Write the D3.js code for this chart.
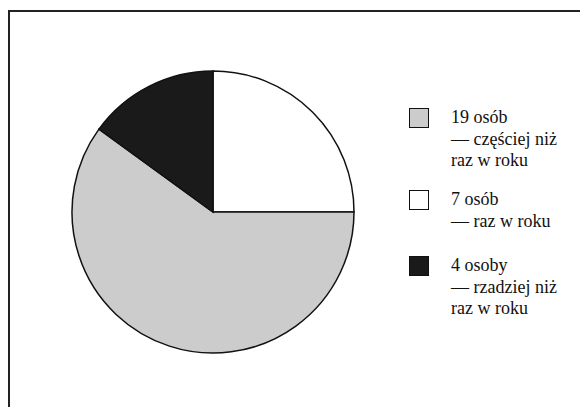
<!DOCTYPE html>
<html>
<head>
<meta charset="utf-8">
<script src="https://cdn.jsdelivr.net/npm/d3@7"></script>
<style>
  html, body { margin: 0; padding: 0; background: #fff; }
  svg { display: block; }
  .lg text { font-family: "Liberation Serif", "Times New Roman", serif; font-size: 18px; fill: #111; }
</style>
</head>
<body>
<svg id="chart" width="580" height="407"></svg>
<script>
// Slices in drawing order (clockwise from 12 o'clock), shares as drawn in the picture
const sliceKeys = ["raz", "czesciej", "rzadziej"];
const sliceShares = [25, 60, 15];
const sliceColors = ["#ffffff", "#cccccc", "#1a1a1a"];

// Legend (in legend order)
const legendKeys = ["czesciej", "raz", "rzadziej"];
const legendLines = [
  ["19 osób", "— częściej niż", "raz w roku"],
  ["7 osób", "— raz w roku"],
  ["4 osoby", "— rzadziej niż", "raz w roku"]
];

const svg = d3.select("#chart");
const W = 580, H = 407;

// frame (extends past bottom/right)
svg.append("path")
  .attr("d", `M9,${H + 5} L9,11 L${W + 5},11`)
  .attr("fill", "none")
  .attr("stroke", "#222")
  .attr("stroke-width", 2);

const color = d3.scaleOrdinal().domain(sliceKeys).range(sliceColors);

const cx = 213, cy = 212, r = 141;
const pie = d3.pie().sort(null).value((d, i) => sliceShares[i]);
const arcs = pie(sliceKeys);
const arc = d3.arc().innerRadius(0).outerRadius(r);

svg.append("g")
  .attr("transform", `translate(${cx},${cy})`)
  .selectAll("path")
  .data(arcs)
  .join("path")
  .attr("d", arc)
  .attr("fill", d => color(d.data))
  .attr("stroke", "#111")
  .attr("stroke-width", 1.5)
  .attr("stroke-linejoin", "miter");

// legend
const legendTops = [108, 190, 256];
const lineH = 21.5;
const lg = svg.append("g").attr("class", "lg");

legendKeys.forEach((k, i) => {
  const g = lg.append("g").attr("transform", `translate(0,${legendTops[i]})`);
  g.append("rect")
    .attr("x", 409.5).attr("y", 0.5)
    .attr("width", 19).attr("height", 19)
    .attr("fill", color(k))
    .attr("stroke", "#111")
    .attr("stroke-width", 1);
  g.selectAll("text")
    .data(legendLines[i])
    .join("text")
    .attr("x", 451)
    .attr("y", (d, j) => 15 + j * lineH)
    .text(d => d);
});
</script>
</body>
</html>
